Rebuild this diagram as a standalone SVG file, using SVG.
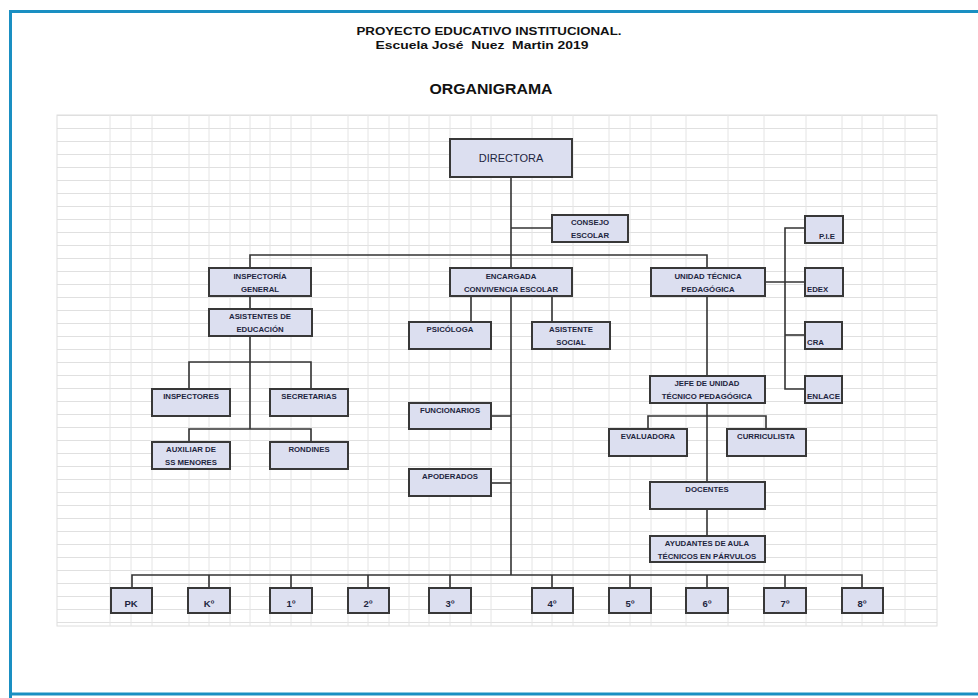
<svg xmlns="http://www.w3.org/2000/svg" width="978" height="698" viewBox="0 0 978 698">
<defs>
<pattern id="hgrid" patternUnits="userSpaceOnUse" x="57" y="115" width="20" height="13">
<line x1="0" y1="0.5" x2="20" y2="0.5" stroke="#e0e0e0" stroke-width="1"/>
</pattern>
</defs>
<style>
.box{fill:#dcdff0;stroke:#383838;stroke-width:2}
.t{font-family:"Liberation Sans",Arial,sans-serif;font-weight:bold;font-size:7.8px;fill:#1e2640;text-anchor:middle}
.tl{font-family:"Liberation Sans",Arial,sans-serif;font-weight:bold;font-size:7.8px;fill:#1e2640}
.g{font-family:"Liberation Sans",Arial,sans-serif;font-weight:bold;font-size:9.5px;fill:#1e2640;text-anchor:middle}
.hd{font-family:"Liberation Sans",Arial,sans-serif;font-weight:bold;fill:#111;text-anchor:middle}
.conn{fill:none;stroke:#333;stroke-width:1.6}
</style>
<rect x="0" y="0" width="978" height="698" fill="#ffffff"/>
<path d="M10.5 698 V11.5 H978" fill="none" stroke="#1a8fc2" stroke-width="3"/>
<path d="M10 694 H978" fill="none" stroke="#1a8fc2" stroke-width="3"/>

<g id="header">
<text class="hd" x="489" y="35" font-size="11.5" textLength="265" lengthAdjust="spacingAndGlyphs">PROYECTO EDUCATIVO INSTITUCIONAL.</text>
<text class="hd" x="482" y="49" font-size="11.5" textLength="213" lengthAdjust="spacingAndGlyphs" xml:space="preserve">Escuela José  Nuez  Martin 2019</text>
<text class="hd" x="491" y="94" font-size="15" textLength="123" lengthAdjust="spacingAndGlyphs">ORGANIGRAMA</text>
</g>

<g id="grid">
<rect x="57" y="115" width="880" height="511" fill="url(#hgrid)" stroke="#dedede" stroke-width="1"/>
<path d="M110 115V626M131 115V626M152 115V626M189 115V626M209 115V626M230 115V626M250 115V626M270 115V626M291 115V626M311 115V626M348 115V626M368 115V626M389 115V626M409 115V626M429 115V626M450 115V626M471 115V626M491 115V626M532 115V626M552 115V626M573 115V626M609 115V626M630 115V626M651 115V626M686 115V626M728 115V626M764 115V626M806 115V626M842 115V626M862 115V626M883 115V626M905 115V626" stroke="#e4e4e4" stroke-width="1" fill="none"/>
</g>

<g id="connectors" class="conn">
<path d="M511 177V575"/>
<path d="M511 228H552"/>
<path d="M250 268V255H707V268"/>
<path d="M250 296V309"/>
<path d="M250 336V429"/>
<path d="M189 389V362H311V389"/>
<path d="M189 442V429H311V442"/>
<path d="M471 296V322"/>
<path d="M552 296V322"/>
<path d="M491 416H511"/>
<path d="M491 483H511"/>
<path d="M707 296V376"/>
<path d="M765 282H805"/>
<path d="M805 228H785V389H805"/>
<path d="M785 335H805"/>
<path d="M707 403V482"/>
<path d="M648 429V416H766V429"/>
<path d="M707 509V536"/>
<path d="M132 588V575H862V588"/>
<path d="M209 575V588M291 575V588M368 575V588M450 575V588M552 575V588M630 575V588M707 575V588M785 575V588"/>
</g>

<g id="directora"><rect class="box" x="450" y="139" width="122" height="38"/><text x="511" y="162" font-family="Liberation Sans, Arial, sans-serif" font-size="11" fill="#1e2640" text-anchor="middle">DIRECTORA</text></g>
<g id="consejo"><rect class="box" x="552" y="215" width="76" height="27"/><text class="t" x="590" y="225">CONSEJO</text><text class="t" x="590" y="238">ESCOLAR</text></g>
<g id="inspectoria"><rect class="box" x="209" y="268" width="102" height="28"/><text class="t" x="260" y="279">INSPECTORÍA</text><text class="t" x="260" y="292">GENERAL</text></g>
<g id="encargada"><rect class="box" x="450" y="268" width="122" height="28"/><text class="t" x="511" y="279">ENCARGADA</text><text class="t" x="511" y="292">CONVIVENCIA ESCOLAR</text></g>
<g id="utp"><rect class="box" x="651" y="268" width="114" height="28"/><text class="t" x="708" y="279">UNIDAD TÉCNICA</text><text class="t" x="708" y="292">PEDAGÓGICA</text></g>
<g id="pie"><rect class="box" x="805" y="216" width="38" height="27"/><text class="t" x="827" y="239">P.I.E</text></g>
<g id="edex"><rect class="box" x="805" y="268" width="38" height="28"/><text class="tl" x="807" y="292">EDEX</text></g>
<g id="cra"><rect class="box" x="805" y="322" width="37" height="27"/><text class="tl" x="807" y="345">CRA</text></g>
<g id="enlace"><rect class="box" x="805" y="376" width="37" height="27"/><text class="tl" x="807" y="399" textLength="33" lengthAdjust="spacingAndGlyphs">ENLACE</text></g>
<g id="asistentes-educacion"><rect class="box" x="209" y="309" width="103" height="27"/><text class="t" x="260" y="319">ASISTENTES DE</text><text class="t" x="260" y="332">EDUCACIÓN</text></g>
<g id="inspectores"><rect class="box" x="152" y="389" width="78" height="27"/><text class="t" x="191" y="399">INSPECTORES</text></g>
<g id="secretarias"><rect class="box" x="270" y="389" width="78" height="27"/><text class="t" x="309" y="399">SECRETARIAS</text></g>
<g id="auxiliar"><rect class="box" x="152" y="442" width="78" height="27"/><text class="t" x="191" y="452">AUXILIAR DE</text><text class="t" x="191" y="465">SS MENORES</text></g>
<g id="rondines"><rect class="box" x="270" y="442" width="78" height="27"/><text class="t" x="309" y="452">RONDINES</text></g>
<g id="psicologa"><rect class="box" x="409" y="322" width="82" height="27"/><text class="t" x="450" y="332">PSICÓLOGA</text></g>
<g id="asistente-social"><rect class="box" x="532" y="322" width="78" height="27"/><text class="t" x="571" y="332">ASISTENTE</text><text class="t" x="571" y="345">SOCIAL</text></g>
<g id="funcionarios"><rect class="box" x="409" y="403" width="82" height="26"/><text class="t" x="450" y="413">FUNCIONARIOS</text></g>
<g id="apoderados"><rect class="box" x="409" y="469" width="82" height="27"/><text class="t" x="450" y="479">APODERADOS</text></g>
<g id="jefe-utp"><rect class="box" x="650" y="376" width="115" height="27"/><text class="t" x="707" y="386">JEFE DE UNIDAD</text><text class="t" x="707" y="399">TÉCNICO PEDAGÓGICA</text></g>
<g id="evaluadora"><rect class="box" x="609" y="429" width="78" height="27"/><text class="t" x="648" y="439">EVALUADORA</text></g>
<g id="curriculista"><rect class="box" x="727" y="429" width="79" height="27"/><text class="t" x="766" y="439">CURRICULISTA</text></g>
<g id="docentes"><rect class="box" x="650" y="482" width="115" height="27"/><text class="t" x="707" y="492">DOCENTES</text></g>
<g id="ayudantes"><rect class="box" x="650" y="536" width="115" height="26"/><text class="t" x="707" y="546">AYUDANTES DE AULA</text><text class="t" x="707" y="559">TÉCNICOS EN PÁRVULOS</text></g>

<g id="pk"><rect class="box" x="111" y="588" width="41" height="25"/><text class="g" x="131" y="607">PK</text></g>
<g id="k"><rect class="box" x="188" y="588" width="42" height="25"/><text class="g" x="209" y="607">Kº</text></g>
<g id="g1"><rect class="box" x="270" y="588" width="42" height="25"/><text class="g" x="291" y="607">1º</text></g>
<g id="g2"><rect class="box" x="348" y="588" width="41" height="25"/><text class="g" x="368" y="607">2º</text></g>
<g id="g3"><rect class="box" x="429" y="588" width="42" height="25"/><text class="g" x="450" y="607">3º</text></g>
<g id="g4"><rect class="box" x="532" y="588" width="41" height="25"/><text class="g" x="552" y="607">4º</text></g>
<g id="g5"><rect class="box" x="609" y="588" width="42" height="25"/><text class="g" x="630" y="607">5º</text></g>
<g id="g6"><rect class="box" x="686" y="588" width="42" height="25"/><text class="g" x="707" y="607">6º</text></g>
<g id="g7"><rect class="box" x="764" y="588" width="42" height="25"/><text class="g" x="785" y="607">7º</text></g>
<g id="g8"><rect class="box" x="842" y="588" width="41" height="25"/><text class="g" x="862" y="607">8º</text></g>
</svg>
